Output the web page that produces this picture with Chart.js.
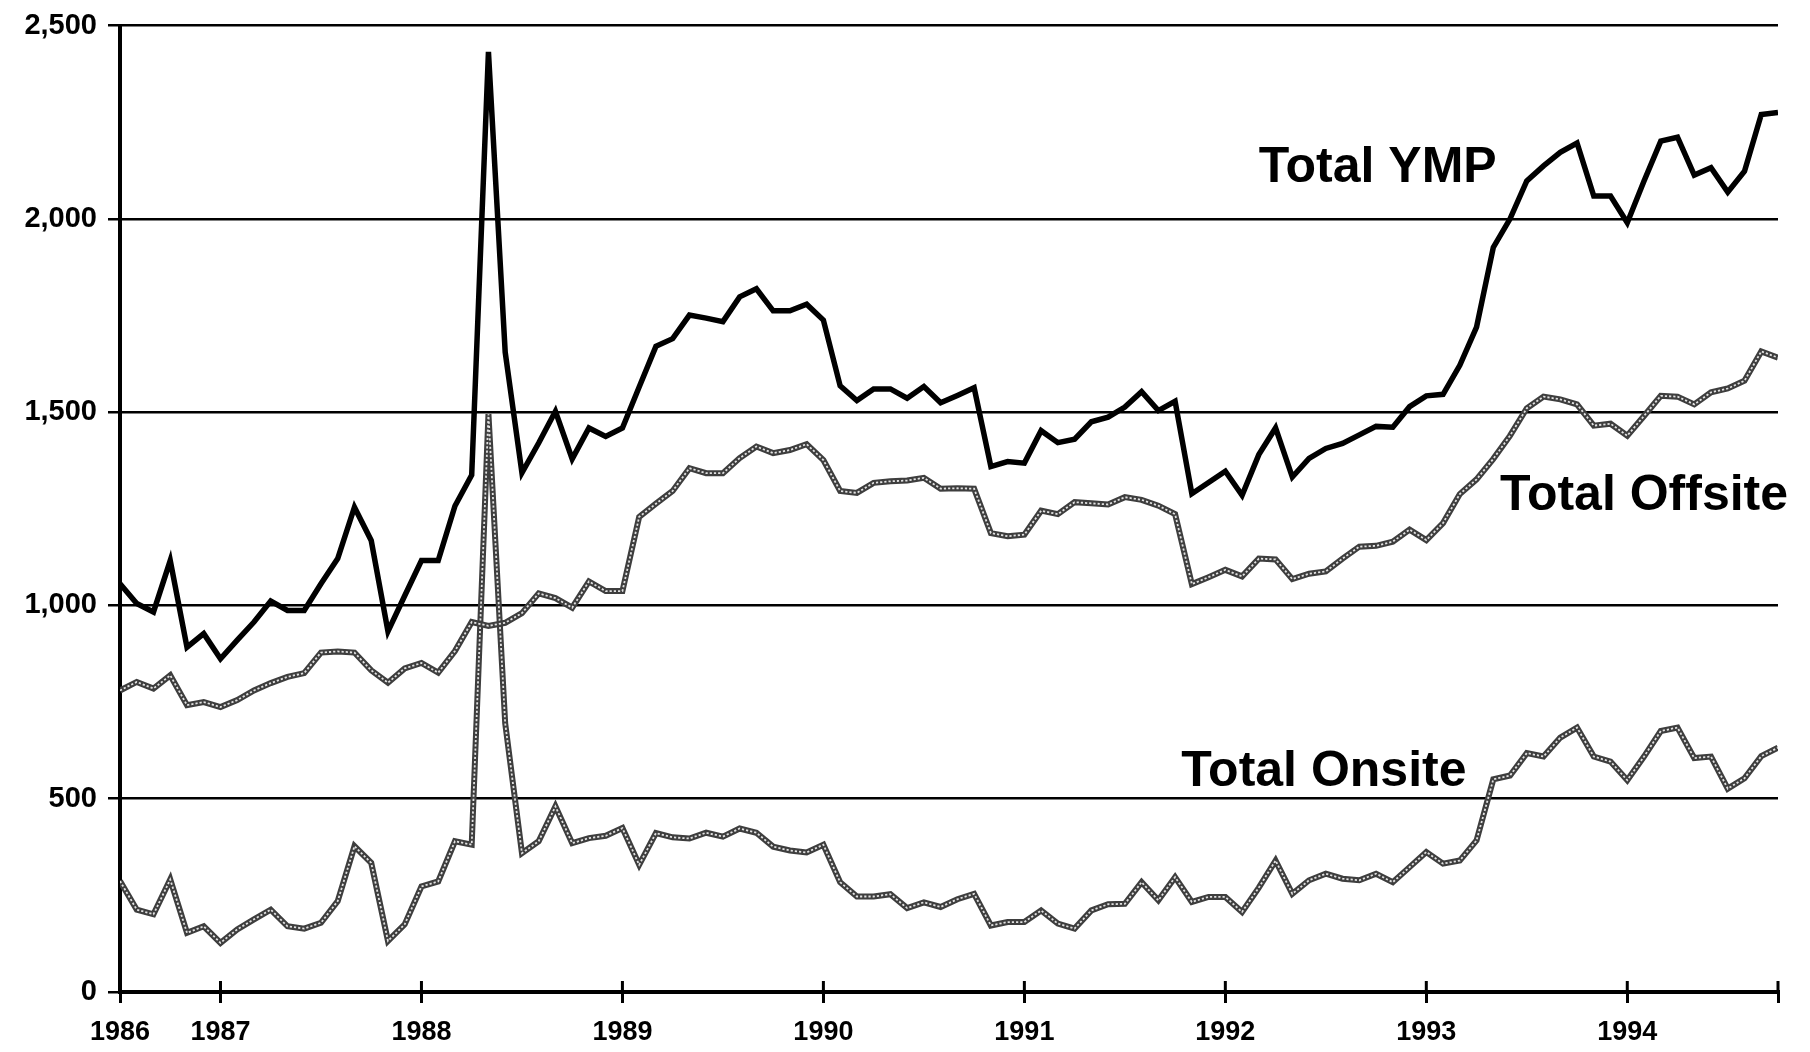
<!DOCTYPE html>
<html>
<head>
<meta charset="utf-8">
<title>Total YMP, Offsite and Onsite</title>
<script src="https://cdn.jsdelivr.net/npm/chart.js@4.4.1/dist/chart.umd.min.js"></script>
<style>
  html, body { margin: 0; padding: 0; background: #fff; }
  #wrap { position: relative; width: 1810px; height: 1052px; }
</style>
</head>
<body>
<div id="wrap"><canvas id="js-line-chart"></canvas></div>
<script>
// Monthly values, July 1986 (index 0) through October 1994 (index 99)
const totalYmp = [
  1056, 1005, 983, 1116, 892, 927, 862, 910, 957, 1011,
  987, 987, 1056, 1121, 1254, 1168, 933, 1025, 1116, 1116,
  1257, 1337, 2432, 1655, 1343, 1420, 1502, 1379, 1459, 1437,
  1459, 1565, 1670, 1690, 1751, 1743, 1734, 1798, 1819, 1762,
  1762, 1779, 1738, 1568, 1530, 1560, 1560, 1536, 1566, 1524,
  1543, 1563, 1359, 1372, 1368, 1452, 1421, 1430, 1475, 1487,
  1513, 1553, 1504, 1528, 1289, 1318, 1347, 1285, 1390, 1459,
  1332, 1380, 1406, 1419, 1441, 1463, 1461, 1514, 1542, 1546,
  1621, 1720, 1926, 2000, 2098, 2137, 2172, 2196, 2059, 2059,
  1990, 2098, 2201, 2211, 2113, 2132, 2069, 2123, 2270, 2275
];
const totalOffsite = [
  780, 802, 785, 819, 742, 750, 737, 755, 780, 799,
  815, 825, 878, 881, 878, 832, 800, 837, 851, 826,
  882, 957, 947, 955, 980, 1031, 1019, 994, 1062, 1037,
  1037, 1229, 1263, 1296, 1355, 1342, 1342, 1381, 1411, 1394,
  1402, 1417, 1376, 1296, 1291, 1317, 1321, 1323, 1330, 1302,
  1303, 1302, 1187, 1179, 1183, 1245, 1236, 1267, 1264, 1261,
  1280, 1273, 1258, 1236, 1055, 1073, 1092, 1075, 1121, 1119,
  1068, 1082, 1088, 1121, 1152, 1154, 1165, 1196, 1169, 1213,
  1288, 1326, 1379, 1439, 1510, 1540, 1533, 1520, 1465, 1470,
  1439, 1490, 1542, 1540, 1520, 1551, 1561, 1581, 1657, 1641
];
const totalOnsite = [
  287, 213, 201, 291, 153, 170, 127, 162, 188, 213,
  170, 164, 179, 235, 377, 334, 132, 175, 273, 286,
  390, 381, 1495, 695, 359, 390, 480, 385, 398, 404,
  424, 329, 411, 400, 397, 412, 402, 423, 412, 376,
  366, 361, 381, 284, 247, 247, 253, 217, 232, 220,
  240, 254, 172, 181, 181, 211, 177, 164, 211, 227,
  228, 284, 237, 297, 233, 246, 246, 207, 270, 340,
  254, 289, 306, 293, 289, 306, 284, 323, 362, 332,
  340, 392, 550, 560, 618, 609, 658, 684, 609, 596,
  548, 609, 675, 684, 605, 609, 526, 553, 610, 632
];

// Year ticks on the x axis (month index) and their labels
const yearTickIndex = [0, 6, 18, 30, 42, 54, 66, 78, 90, 99];
const yearTickLabels = ['1986', '1987', '1988', '1989', '1990', '1991', '1992', '1993', '1994', ''];
const yTicks = [0, 500, 1000, 1500, 2000, 2500];
const seriesNames = ['Total YMP', 'Total Offsite', 'Total Onsite'];

const FONT = "'Liberation Sans', Arial, Helvetica, sans-serif";

const toPoints = (values) => values.map((v, i) => ({ x: i, y: v }));

// Where each series name sits: [month index of right edge, value at baseline]
const nameAnchors = [[82.2, 2096], [99.6, 1248], [80.4, 532]];

// Tick marks crossing the x axis, plus the series names
const overlayPlugin = {
  id: 'overlay',
  afterDraw(chart) {
    const { ctx, chartArea, scales } = chart;
    const x = scales.x;
    const y = scales.y;
    ctx.save();
    ctx.strokeStyle = '#000';
    ctx.lineWidth = 3;
    yearTickIndex.forEach((i) => {
      const px = x.getPixelForValue(i);
      ctx.beginPath();
      ctx.moveTo(px, chartArea.bottom - 11);
      ctx.lineTo(px, chartArea.bottom);
      ctx.stroke();
    });
    ctx.fillStyle = '#000';
    ctx.font = 'bold 50px ' + FONT;
    ctx.textAlign = 'right';
    ctx.textBaseline = 'alphabetic';
    seriesNames.forEach((name, k) => {
      const a = nameAnchors[k];
      ctx.fillText(name, x.getPixelForValue(a[0]), y.getPixelForValue(a[1]));
    });
    ctx.restore();
  },
};

// grey "chain" line: dark base with a white dashed core
const chainBase = { borderColor: '#3e3e3e', borderWidth: 6 };
const chainCore = { borderColor: 'rgba(255,255,255,0.85)', borderWidth: 1.8, borderDash: [2.2, 2] };

const ctx = document.getElementById('js-line-chart').getContext('2d');

const config = {
  type: 'line',
  data: {
    datasets: [
      { label: seriesNames[0], data: toPoints(totalYmp), borderColor: '#000', borderWidth: 5.5, order: 0 },
      { label: seriesNames[1], data: toPoints(totalOffsite), ...chainCore, order: 1 },
      { label: seriesNames[1], data: toPoints(totalOffsite), ...chainBase, order: 2 },
      { label: seriesNames[2], data: toPoints(totalOnsite), ...chainCore, order: 3 },
      { label: seriesNames[2], data: toPoints(totalOnsite), ...chainBase, order: 4 },
    ],
  },
  options: {
    responsive: true,
    maintainAspectRatio: false,
    animation: false,
    layout: { padding: { top: 14, right: 32, left: 0, bottom: 0 } },
    elements: { point: { radius: 0 }, line: { tension: 0 } },
    plugins: { legend: { display: false }, tooltip: { enabled: false } },
    scales: {
      x: {
        type: 'linear',
        min: 0,
        max: 99,
        afterBuildTicks: (s) => { s.ticks = yearTickIndex.map((v) => ({ value: v })); },
        afterFit: (s) => { s.height = 60; },
        ticks: {
          autoSkip: false,
          maxRotation: 0,
          padding: 13,
          color: '#000',
          font: { family: FONT, size: 27, weight: 'bold' },
          callback: (v, k) => yearTickLabels[k],
        },
        grid: { drawOnChartArea: false, drawTicks: true, tickLength: 11, color: '#000', lineWidth: 3 },
        border: { display: true, color: '#000', width: 4 },
      },
      y: {
        min: 0,
        max: 2500,
        afterBuildTicks: (s) => { s.ticks = yTicks.map((v) => ({ value: v })); },
        afterFit: (s) => { s.width = 120; },
        ticks: {
          padding: 11,
          color: '#000',
          font: { family: FONT, size: 29, weight: 'bold', lineHeight: 1 },
          callback: (v) => v.toLocaleString('en-US'),
        },
        grid: { color: '#000', lineWidth: 2.5, tickLength: 12 },
        border: { display: true, color: '#000', width: 4 },
      },
    },
  },
  plugins: [overlayPlugin],
};

const newLineChart = new Chart(ctx, config);
</script>
</body>
</html>
